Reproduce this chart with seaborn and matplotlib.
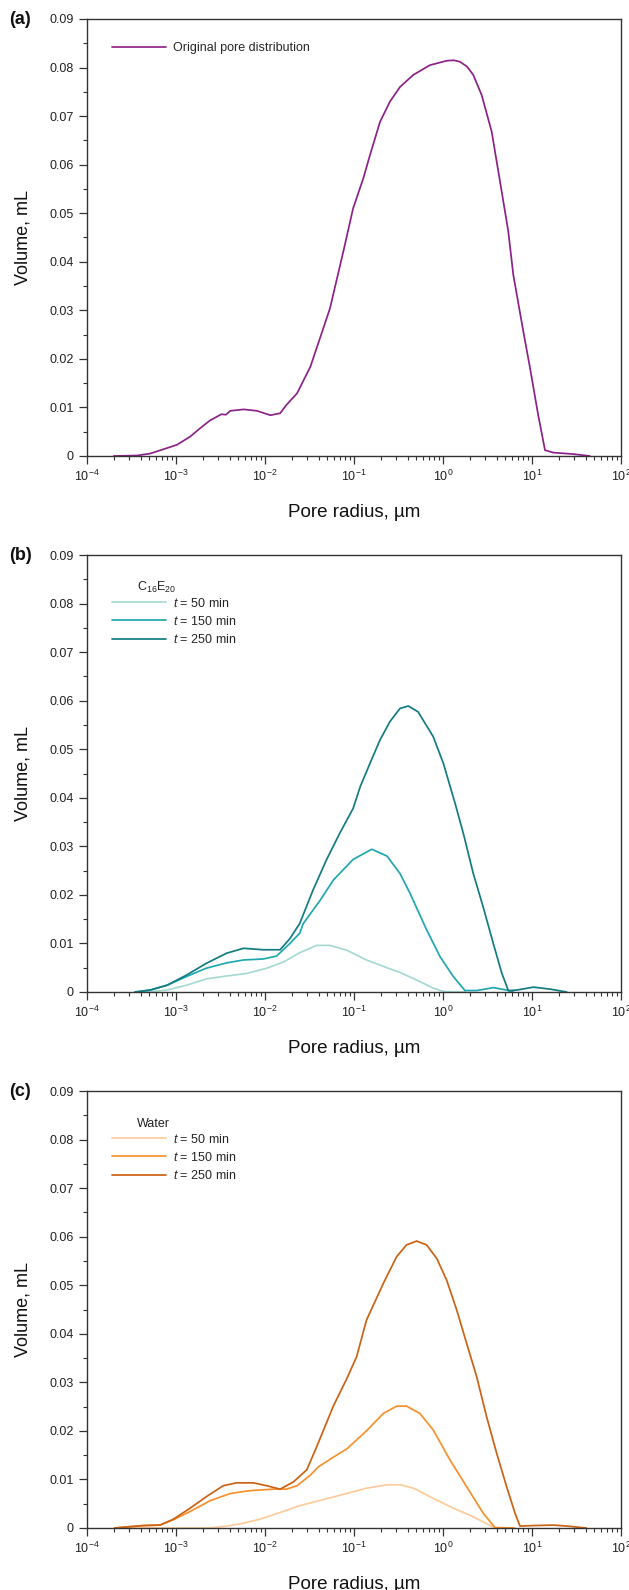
import numpy as np
import pandas as pd
import matplotlib
matplotlib.use('Agg')
import matplotlib.pyplot as plt
from matplotlib.lines import Line2D
from matplotlib.ticker import FixedLocator, FixedFormatter, LogLocator, NullFormatter
import seaborn as sns

# ==================================================
# Dados (expoente log10 do raio, volume em mL)
# ==================================================
y_ticks = [0, 0.01, 0.02, 0.03, 0.04, 0.05, 0.06, 0.07, 0.08, 0.09]
y_labels = ['0', '0.01', '0.02', '0.03', '0.04', '0.05', '0.06', '0.07', '0.08', '0.09']
x_ticks = [1e-4, 1e-3, 1e-2, 1e-1, 1e0, 1e1, 1e2]
x_labels = ['$10^{-4}$', '$10^{-3}$', '$10^{-2}$', '$10^{-1}$', '$10^{0}$', '$10^{1}$', '$10^{2}$']

# (a) distribuição original
a_log = [-3.70, -3.44, -3.29, -3.14, -2.99, -2.84, -2.73, -2.62, -2.49, -2.44, -2.39,
         -2.24, -2.09, -1.94, -1.83, -1.76, -1.64, -1.49, -1.42, -1.27, -1.12, -1.01,
         -0.895, -0.82, -0.708, -0.596, -0.483, -0.333, -0.146, 0.041, 0.12, 0.19, 0.27, 0.34,
         0.435, 0.547, 0.66, 0.734, 0.79, 0.903, 0.978, 1.07, 1.146, 1.24, 1.46, 1.65]
a_vol = [0.0, 0.0001, 0.0005, 0.0014, 0.0023, 0.0040, 0.0057, 0.0073, 0.0086, 0.0085, 0.0093,
         0.0096, 0.0093, 0.0084, 0.0088, 0.0105, 0.0129, 0.0184, 0.0222, 0.0304, 0.0421, 0.0510,
         0.0572, 0.0620, 0.0688, 0.0730, 0.0760, 0.0785, 0.0805, 0.0814, 0.0815, 0.0812, 0.0802, 0.0785,
         0.0743, 0.0668, 0.0544, 0.0462, 0.0373, 0.0256, 0.0181, 0.0084, 0.0012, 0.0007, 0.0004, 0.0]

# (b) C16E20
b50_log = [-3.33, -3.10, -2.88, -2.66, -2.43, -2.21, -1.98, -1.79, -1.61, -1.42, -1.27,
           -1.08, -0.86, -0.63, -0.48, -0.30, -0.11, 0.004, 0.25]
b50_vol = [0.0, 0.0004, 0.0014, 0.0027, 0.0033, 0.0038, 0.0049, 0.0062, 0.0081, 0.0096, 0.0096,
           0.0086, 0.0066, 0.0050, 0.0040, 0.0025, 0.0008, 0.0001, 0.0]
b150_log = [-3.46, -3.29, -3.10, -2.88, -2.66, -2.43, -2.24, -2.02, -1.87, -1.72, -1.61,
            -1.57, -1.38, -1.23, -1.01, -0.80, -0.63, -0.483, -0.37, -0.184, -0.034,
            0.115, 0.247, 0.38, 0.565, 0.715, 0.79]
b150_vol = [0.0, 0.0004, 0.0014, 0.0032, 0.0049, 0.0060, 0.0066, 0.0068, 0.0074, 0.0100, 0.0121,
            0.0141, 0.0189, 0.0231, 0.0273, 0.0294, 0.0280, 0.0244, 0.0203, 0.0128, 0.0073,
            0.0032, 0.0003, 0.0003, 0.0009, 0.0004, 0.0]
b250_log = [-3.46, -3.29, -3.10, -2.88, -2.66, -2.43, -2.24, -2.02, -1.83, -1.72, -1.61,
            -1.46, -1.31, -1.16, -1.01, -0.93, -0.82, -0.708, -0.596, -0.483, -0.39, -0.28,
            -0.11, 0.004, 0.135, 0.228, 0.34, 0.45, 0.565, 0.66, 0.734, 0.83, 1.015, 1.2, 1.39]
b250_vol = [0.0, 0.0004, 0.0014, 0.0035, 0.0059, 0.0080, 0.0090, 0.0087, 0.0087, 0.0110, 0.0141,
            0.0210, 0.0272, 0.0327, 0.0378, 0.0423, 0.0471, 0.0519, 0.0557, 0.0584, 0.0589, 0.0577,
            0.0526, 0.0471, 0.0389, 0.0327, 0.0244, 0.0176, 0.0100, 0.0039, 0.0003, 0.0004, 0.0010, 0.0006, 0.0]

# (c) água
c50_log = [-3.69, -2.62, -2.43, -2.24, -2.06, -1.83, -1.61, -1.23, -0.86, -0.63, -0.48,
           -0.33, -0.11, 0.115, 0.34, 0.584]
c50_vol = [0.0, 0.0, 0.0004, 0.0010, 0.0018, 0.0032, 0.0046, 0.0064, 0.0082, 0.0089, 0.0089,
           0.0082, 0.0061, 0.0041, 0.0023, 0.0]
c150_log = [-3.69, -3.37, -3.18, -3.03, -2.84, -2.62, -2.39, -2.17, -1.91, -1.76, -1.64,
            -1.49, -1.40, -1.23, -1.08, -0.86, -0.67, -0.52, -0.41, -0.26, -0.11, 0.079,
            0.266, 0.453, 0.584, 0.80]
c150_vol = [0.0, 0.0005, 0.0006, 0.0017, 0.0034, 0.0056, 0.0071, 0.0077, 0.0080, 0.0080, 0.0087,
            0.0109, 0.0126, 0.0146, 0.0163, 0.0200, 0.0236, 0.0251, 0.0251, 0.0236, 0.0202, 0.0140,
            0.0085, 0.0030, 0.0001, 0.0]
c250_log = [-3.69, -3.37, -3.18, -3.03, -2.84, -2.655, -2.47, -2.32, -2.13, -1.98, -1.83,
            -1.68, -1.53, -1.42, -1.23, -1.08, -0.97, -0.86, -0.67, -0.52, -0.41, -0.296,
            -0.184, -0.07, 0.04, 0.154, 0.266, 0.378, 0.49, 0.603, 0.715, 0.81, 0.865,
            1.015, 1.24, 1.39, 1.61]
c250_vol = [0.0, 0.0005, 0.0006, 0.0018, 0.0041, 0.0065, 0.0087, 0.0093, 0.0093, 0.0087, 0.0080,
            0.0095, 0.0120, 0.0167, 0.0252, 0.0308, 0.0353, 0.0428, 0.0504, 0.0559, 0.0583, 0.0591,
            0.0583, 0.0555, 0.0511, 0.0449, 0.0380, 0.0312, 0.0229, 0.0154, 0.0085, 0.0030, 0.0004,
            0.0005, 0.0006, 0.0004, 0.0]

series_labels = ['$t$ = 50 min', '$t$ = 150 min', '$t$ = 250 min']
cores_b = ['#A6D9D3', '#1FA8AF', '#137C82']
cores_c = ['#FDCB9C', '#F7912E', '#CC6214']
cor_a = '#8C2288'


def montar_df(pares, rotulos):
    linhas = []
    for (lg, vol), rot in zip(pares, rotulos):
        for l, v in zip(lg, vol):
            linhas.append([10.0 ** l, v, rot])
    return pd.DataFrame(linhas, columns=['raio', 'volume', 'serie'])


sns.set_theme(style='ticks')
plt.rcParams['font.family'] = ['Liberation Sans', 'DejaVu Sans']
plt.rcParams['mathtext.fontset'] = 'custom'
plt.rcParams['mathtext.rm'] = 'Liberation Sans'
plt.rcParams['mathtext.it'] = 'Liberation Sans:italic'
plt.rcParams['mathtext.bf'] = 'Liberation Sans:bold'

fig = plt.figure(figsize=(6.29, 15.9), dpi=100)
W, H = 629, 1590
left, right = 87, 621
tops = [19, 555, 1091]
altura = 437

paineis = [
    ('(a)', [(a_log, a_vol)], ['Original pore distribution'], [cor_a], None),
    ('(b)', [(b50_log, b50_vol), (b150_log, b150_vol), (b250_log, b250_vol)], series_labels, cores_b,
     'C$_{16}$E$_{20}$'),
    ('(c)', [(c50_log, c50_vol), (c150_log, c150_vol), (c250_log, c250_vol)], series_labels, cores_c,
     'Water'),
]

for (rotulo, pares, nomes, cores, titulo), top in zip(paineis, tops):
    ax = fig.add_axes([left / W, 1 - (top + altura) / H, (right - left) / W, altura / H])
    df = montar_df(pares, nomes)
    sns.lineplot(data=df, x='raio', y='volume', hue='serie', palette=cores,
                 hue_order=nomes, ax=ax, legend=False, linewidth=1.25, estimator=None)
    ax.set_xscale('log')
    ax.set_xlim(1e-4, 1e2)
    ax.set_ylim(0, 0.09)
    ax.xaxis.set_major_locator(FixedLocator(x_ticks))
    ax.xaxis.set_major_formatter(FixedFormatter(x_labels))
    ax.xaxis.set_minor_locator(LogLocator(base=10, subs=np.arange(2, 10), numticks=20))
    ax.xaxis.set_minor_formatter(NullFormatter())
    ax.yaxis.set_major_locator(FixedLocator(y_ticks))
    ax.yaxis.set_major_formatter(FixedFormatter(y_labels))
    ax.yaxis.set_minor_locator(FixedLocator([t + 0.005 for t in y_ticks[:-1]]))
    ax.tick_params(which='major', direction='out', length=6, width=0.9, color='#333333',
                   labelsize=9, pad=3.5, labelcolor='#222222')
    ax.tick_params(which='minor', direction='out', length=3, width=0.8, color='#333333')
    ax.tick_params(top=False, right=False, which='both')
    for sp in ax.spines.values():
        sp.set_color('#333333')
        sp.set_linewidth(1.0)
    ax.set_xlabel('Pore radius, µm', fontsize=13.5, labelpad=14, color='#111111')
    ax.set_ylabel('Volume, mL', fontsize=13, labelpad=13, color='#111111')

    handles = [Line2D([], [], color=c, lw=1.25) for c in cores]
    if titulo is None:
        ax.legend(handles, nomes, loc='upper left', bbox_to_anchor=(0.047, 0.947), frameon=False,
                  fontsize=9, handlelength=4.3, handletextpad=0.55, borderpad=0, borderaxespad=0)
    else:
        ax.text(0.094, 0.925, titulo, transform=ax.transAxes, fontsize=9, va='center', ha='left',
                color='#222222')
        ax.legend(handles, nomes, loc='upper left', bbox_to_anchor=(0.047, 0.905), frameon=False,
                  fontsize=9, handlelength=4.3, handletextpad=0.55, labelspacing=0.42,
                  borderpad=0, borderaxespad=0)
    fig.text(9 / W, 1 - (top + 1) / H, rotulo, fontsize=13, fontweight='bold',
             va='center', ha='left', color='#111111')

fig.savefig('out.png', dpi=100)
